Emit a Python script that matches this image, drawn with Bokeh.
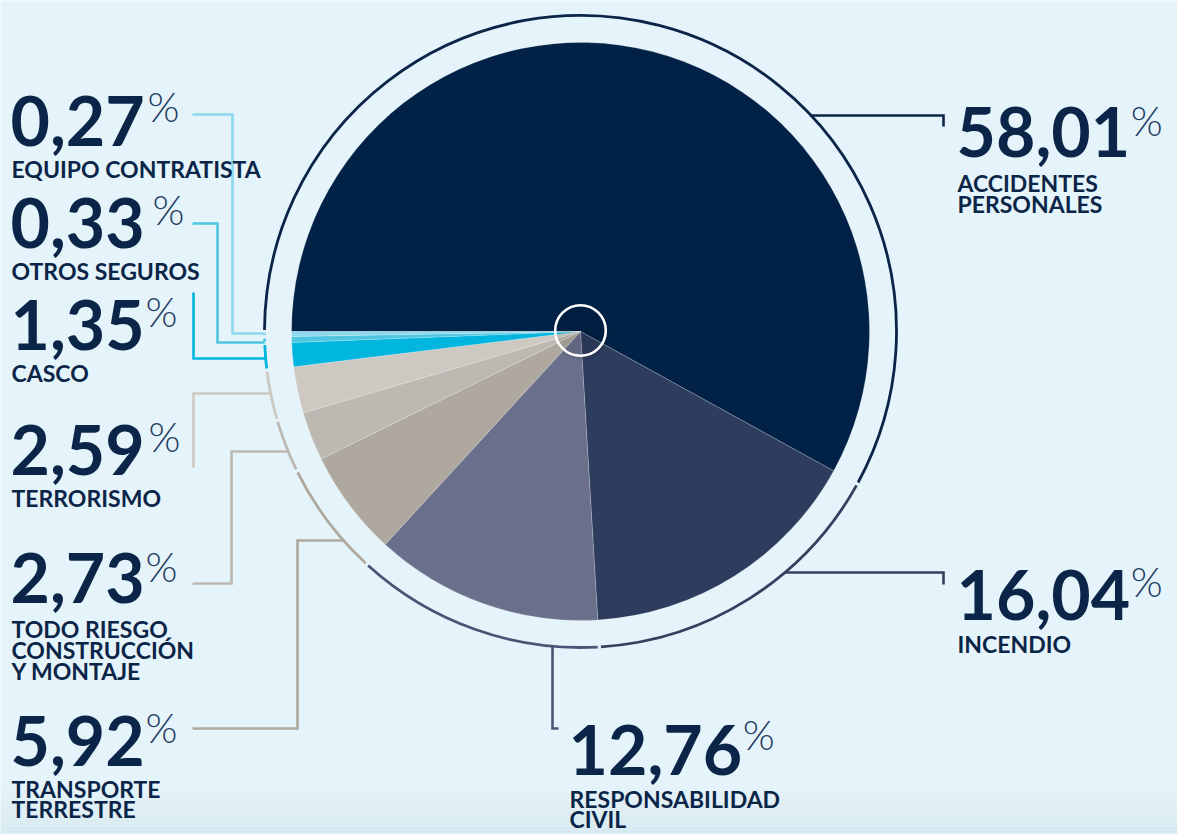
import math
from bokeh.plotting import figure
from bokeh.models import Range1d, ColumnDataSource
from bokeh.core.properties import value
from bokeh.embed import file_html
from bokeh.resources import INLINE

# ---------------- data ----------------
categories = ["ACCIDENTES PERSONALES", "INCENDIO", "RESPONSABILIDAD CIVIL",
              "TRANSPORTE TERRESTRE", "TODO RIESGO CONSTRUCCIÓN Y MONTAJE",
              "TERRORISMO", "CASCO", "OTROS SEGUROS", "EQUIPO CONTRATISTA"]
label_lines = [["ACCIDENTES", "PERSONALES"], ["INCENDIO"], ["RESPONSABILIDAD", "CIVIL"],
               ["TRANSPORTE", "TERRESTRE"], ["TODO RIESGO", "CONSTRUCCIÓN", "Y MONTAJE"],
               ["TERRORISMO"], ["CASCO"], ["OTROS SEGUROS"], ["EQUIPO CONTRATISTA"]]
shares = [58.01, 16.04, 12.76, 5.92, 2.73, 2.59, 1.35, 0.33, 0.27]
slice_colors = ["#012246", "#2e3d5e", "#6a6f8c", "#aea89e", "#bdb9b2", "#cdc9c2",
                "#00b6de", "#4fc6e1", "#8ed8ec"]
ring_colors = ["#0b2548", "#33415f", "#4c5475", "#aea89e", "#bdb9b2", "#cdc9c2",
               "#00b6de", "#4fc6e1", "#8ed8ec"]

# ---------------- layout (reference pixel coords) ----------------
W, H = 1177, 834
CX, CY = 580, 331
R_PIE = 289
R_RING = 316

NUM_SIZE, PCT_SIZE, LAB_SIZE = 68, 41, 23
BASE_FIX = 0.4  # baseline correction (fraction of font size)


def X(x):
    return x


def Y(y):
    return H - y


def YT(y, size):
    # place a text so that its alphabetic baseline lands on reference y
    return H - (y - BASE_FIX * size)


def est_width(s, size):
    w = 0.0
    for ch in s:
        w += 0.2 if ch == "," else 0.58
    return w * size


layout = [
    dict(nx=956, nb=159, px=1127, pb=136, lb=192, lp=21, path=[(943, 126), (943, 115)], hook=("h", 115, 1)),
    dict(nx=956, nb=622, px=1129, pb=597, lb=653, lp=21, path=[(943, 584), (943, 572)], hook=("h", 572, 1)),
    dict(nx=568, nb=777, px=726, pb=750, lb=808, lp=20, path=[(558, 728), (552, 728)], hook=("v", 552, 1)),
    dict(nx=10, nb=768, px=145, pb=743, lb=798, lp=20, path=[(192, 728), (297, 728), (297, 540)], hook=("h", 540, -1)),
    dict(nx=10, nb=605, px=140, pb=582, lb=638, lp=21, path=[(192, 583), (231, 583), (231, 451)], hook=("h", 451, -1)),
    dict(nx=10, nb=477, px=148, pb=452, lb=507, lp=21, path=[(193, 467), (193, 393)], hook=("h", 393, -1)),
    dict(nx=10, nb=352, px=137, pb=327, lb=382, lp=21, path=[(193, 292), (193, 358)], hook=("h", 358, -1)),
    dict(nx=10, nb=250, px=152, pb=225, lb=280, lp=21, path=[(192, 223), (217, 223), (217, 342)], hook=("h", 342, -1)),
    dict(nx=10, nb=148, px=147, pb=122, lb=178, lp=21, path=[(192, 114), (232, 114), (232, 333)], hook=("h", 333, -1)),
]

BG = "#e5f4fa"
NAVY = "#0b2548"

p = figure(width=W, height=H, x_range=Range1d(0, W), y_range=Range1d(0, H),
           output_backend="svg", toolbar_location=None,
           x_axis_location=None, y_axis_location=None, min_border=0)
p.grid.visible = False
p.outline_line_color = None
p.background_fill_color = BG
p.border_fill_color = BG

# bottom shading band
bands = 14
for i in range(bands):
    y0 = 786 + i * (48 / bands)
    p.quad(left=0, right=W, top=Y(y0), bottom=Y(y0 + 48 / bands + 0.5),
           fill_color="#c3d9e2", fill_alpha=0.035 * (i + 1) ** 1.1 * 0.5, line_color=None)

# ---------------- pie ----------------
total = sum(shares)
starts, ends = [], []
acc = 0.0
for v in shares:
    starts.append(math.pi - 2 * math.pi * acc / total)
    acc += v
    ends.append(math.pi - 2 * math.pi * acc / total)

src = ColumnDataSource(dict(start=starts, end=ends, color=slice_colors, ring=ring_colors,
                            name=categories, share=shares))
p.wedge(x=X(CX), y=Y(CY), radius=R_PIE, start_angle="start", end_angle="end",
        direction="clock", fill_color="color", line_color="#ffffff", line_alpha=0.25,
        line_width=0.8, source=src)

# outer segmented ring
gap = 3.2 / R_RING
rs = [s - gap / 2 for s in starts]
re_ = [e + gap / 2 for e in ends]
ring_src = ColumnDataSource(dict(start=rs, end=re_, ring=ring_colors))
p.arc(x=X(CX), y=Y(CY), radius=R_RING, start_angle="start", end_angle="end",
      direction="clock", line_color="ring", line_width=2.8, source=ring_src)

# centre circle
p.circle(x=[X(CX) + 2], y=[Y(CY) - 2], radius=27, fill_color="#000000", fill_alpha=0.08, line_color=None)
p.circle(x=[X(CX)], y=[Y(CY - 1)], radius=25.3, fill_color=None, line_color="#ffffff", line_width=2.6)

# ---------------- leaders ----------------
xs, ys, lc = [], [], []
for i, lay in enumerate(layout):
    pts = list(lay["path"])
    kind, c, side = lay["hook"]
    if kind == "h":
        dy = c - CY
        hx = CX + side * math.sqrt(R_RING ** 2 - dy ** 2)
        pts.append((hx, c))
    else:
        dx = c - CX
        hy = CY + side * math.sqrt(R_RING ** 2 - dx ** 2)
        pts.append((c, hy))
    xs.append([X(a) for a, b in pts])
    ys.append([Y(b) for a, b in pts])
    lc.append(ring_colors[i])
p.multi_line(xs=xs, ys=ys, line_color=lc, line_width=2.6, line_join="miter")

# ---------------- texts ----------------
num_txt = [f"{v:.2f}".replace(".", ",") for v in shares]
pct_x = [max(l["px"], l["nx"] + est_width(t, NUM_SIZE) + 3) for l, t in zip(layout, num_txt)]
p.text(x=[X(l["nx"]) for l in layout], y=[YT(l["nb"], NUM_SIZE) for l in layout], text=num_txt,
       text_font=value("Lato"), text_font_style="bold", text_font_size=f"{NUM_SIZE}px",
       text_color=NAVY, text_baseline="alphabetic", text_align="left")
p.text(x=[X(x) for x in pct_x], y=[YT(l["pb"], PCT_SIZE) for l in layout], text=["%"] * len(layout),
       text_font=value("Lato Light"), text_font_style="normal", text_font_size=f"{PCT_SIZE}px",
       text_color="#1d3a60", text_baseline="alphabetic", text_align="left")
lx, ly, lt = [], [], []
for i, lay in enumerate(layout):
    for j, line in enumerate(label_lines[i]):
        lx.append(X(lay["nx"] + 1))
        ly.append(YT(lay["lb"] + j * lay["lp"], LAB_SIZE))
        lt.append(line)
p.text(x=lx, y=ly, text=lt, text_font=value("Lato"), text_font_style="bold",
       text_font_size=f"{LAB_SIZE}px", text_color=NAVY, text_baseline="alphabetic", text_align="left")

open("out.html", "w").write(file_html(p, INLINE))
